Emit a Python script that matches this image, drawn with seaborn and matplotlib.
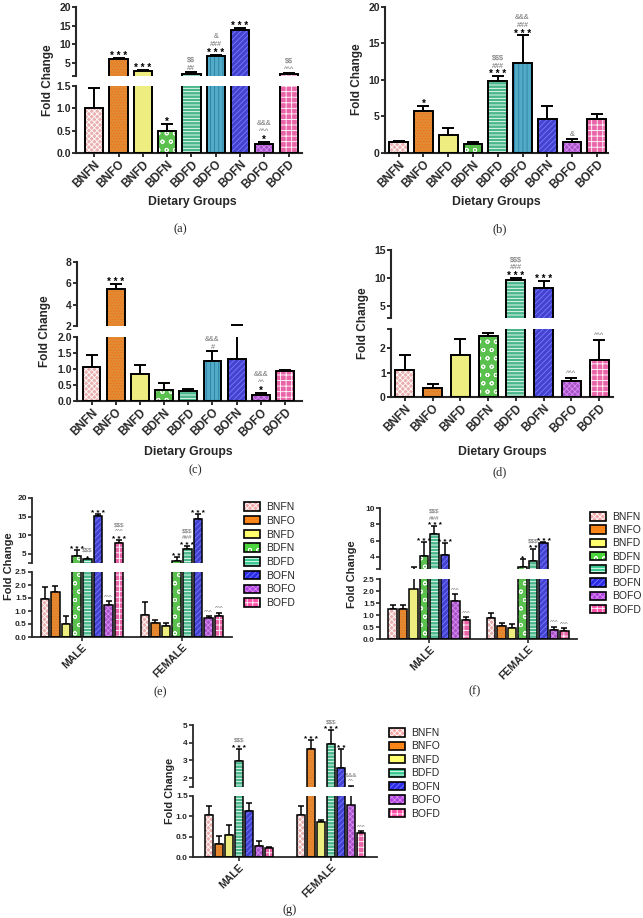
import matplotlib.pyplot as plt
import matplotlib.patches as mpatches
import pandas as pd
import seaborn as sns

sns.set_style("ticks")
plt.rcParams['font.family'] = ['Liberation Sans', 'DejaVu Sans']
plt.rcParams['font.weight'] = 'bold'
plt.rcParams['hatch.linewidth'] = 0.6

W, H = 643, 918

GROUPS_9 = ['BNFN', 'BNFO', 'BNFD', 'BDFN', 'BDFD', 'BDFO', 'BOFN', 'BOFO', 'BOFD']
GROUPS_8 = ['BNFN', 'BNFO', 'BNFD', 'BDFN', 'BDFD', 'BOFN', 'BOFO', 'BOFD']
GROUPS_7 = ['BNFN', 'BNFO', 'BNFD', 'BDFD', 'BOFN', 'BOFO', 'BOFD']
SEXES = ['MALE', 'FEMALE']

# panel (a)
a_mean = [1.0, 6.0, 2.8, 0.5, 2.0, 6.8, 13.8, 0.2, 2.0]
a_err = [0.45, 0.25, 0.35, 0.15, 0.45, 0.3, 0.5, 0.05, 0.2]
a_sig = ['', '***', '***', '*', '$$\n##', '&\n###\n***', '***', '&&&\n^^^\n*', '$$\n^^^']

# panel (b)
b_mean = [1.5, 5.7, 2.5, 1.3, 9.9, 12.3, 4.7, 1.5, 4.6]
b_err = [0.15, 0.8, 0.9, 0.15, 0.6, 3.8, 1.8, 0.4, 0.8]
b_sig = ['', '*', '', '', '$$$\n###\n***', '&&&\n###\n***', '', '&', '']

# panel (c)
c_mean = [1.07, 5.5, 0.83, 0.33, 0.31, 1.24, 1.3, 0.18, 0.93]
c_err = [0.38, 0.45, 0.28, 0.23, 0.05, 0.31, 0.77, 0.07, 0.05]
c_sig = ['', '***', '', '', '', '&&&\n#', '', '&&&\n^^\n*', '']

# panel (d)
d_mean = [1.13, 0.39, 1.75, 2.52, 9.7, 8.2, 0.64, 1.53]
d_err = [0.62, 0.16, 0.62, 0.11, 0.3, 1.3, 0.14, 0.83]
d_sig = ['', '', '', '', '$$$\n###\n***', '***', '^^^', '^^^']

# panel (e)
e_male = [1.47, 1.73, 0.5, 4.5, 3.5, 15.2, 1.22, 7.9]
e_male_err = [0.46, 0.24, 0.32, 1.5, 0.15, 0.5, 0.15, 0.8]
e_male_sig = ['', '', '', '***', '$$$\n*', '***', '^^^', '$$$\n^^^\n***']
e_female = [0.86, 0.52, 0.43, 3.0, 6.3, 14.3, 0.72, 0.8]
e_female_err = [0.5, 0.12, 0.11, 1.2, 0.9, 1.4, 0.08, 0.14]
e_female_sig = ['', '', '', '**', '$$$\n###\n***', '***', '^^^', '^^^']

# panel (f)
f_male = [1.24, 1.24, 2.1, 4.1, 6.85, 4.28, 1.6, 0.81]
f_male_err = [0.16, 0.17, 0.7, 1.7, 0.9, 1.4, 0.27, 0.09]
f_male_sig = ['', '', '', '***', '$$$\n###\n***', '***', '^^^', '^^^']
f_female = [0.87, 0.56, 0.45, 2.73, 3.47, 5.7, 0.39, 0.35]
f_female_err = [0.21, 0.12, 0.16, 1.0, 1.5, 0.1, 0.13, 0.12]
f_female_sig = ['', '', '', '*', '$$$\n**', '***', '^^^', '^^^']

# panel (g)
g_male = [1.03, 0.31, 0.54, 2.95, 1.13, 0.27, 0.23]
g_male_err = [0.23, 0.21, 0.24, 0.71, 0.19, 0.13, 0.02]
g_male_sig = ['', '', '', '$$$\n***', '', '', '']
g_female = [1.03, 3.62, 0.85, 3.9, 2.55, 1.28, 0.6]
g_female_err = [0.23, 0.52, 0.05, 0.8, 1.09, 0.3, 0.04]
g_female_sig = ['', '***', '', '$$$\n***', '**', '&&&\n^^', '^^^']

# face colour, hatch, hatch colour
STYLE = {
    'BNFN': ('#F4A6A6', 'xxxxxx', '#FFFFFF'),
    'BNFO': ('#FF8A1A', '......', '#EE7410'),
    'BNFD': ('#FFFF6E', '', '#FFFF6E'),
    'BDFN': ('#4BD43B', 'oo', '#FFFFFF'),
    'BDFD': ('#35C98F', '-----', '#FFFFFF'),
    'BDFO': ('#3DB5DA', '||||', '#2A7FA5'),
    'BOFN': ('#2B2BE8', '//////', '#7A7AFF'),
    'BOFO': ('#B040DD', 'xxxxxx', '#D78AF0'),
    'BOFD': ('#FF4FA8', '+++', '#FFFFFF'),
}

BIG = dict(spine=1.5, tick=7.5, xtick=8.5, bar=1.4, cap=4, star=7, mark=5.2, gap=2.0)
SMALL = dict(spine=1.3, tick=6, xtick=7.5, bar=1.1, cap=2.2, star=5.8, mark=4.5, gap=1.5)


def single_df(groups, mean, err, sig):
    return pd.DataFrame({'group': groups, 'hue': groups, 'value': mean, 'err': err, 'sig': sig})


def sex_df(groups, m, m_err, m_sig, f, f_err, f_sig):
    return pd.DataFrame({'group': ['MALE'] * len(groups) + ['FEMALE'] * len(groups),
                         'hue': groups * 2, 'value': m + f, 'err': m_err + f_err,
                         'sig': m_sig + f_sig})


def draw_bars(ax, df, xorder, horder, width, gap, ylim, sz):
    grouped = xorder != horder
    sns.barplot(data=df, x='group', y='value', hue='hue', order=xorder, hue_order=horder,
                palette={k: STYLE[k][0] for k in horder}, dodge=grouped, width=width,
                gap=gap if grouped else 0, errorbar=None, legend=False, ax=ax, zorder=2)
    info = df.set_index(['group', 'hue'])
    notes = []
    for level, cont in zip(horder, list(ax.containers)):
        face, hatch, hcol = STYLE[level]
        for bar in cont:
            cx = bar.get_x() + bar.get_width() / 2
            row = info.loc[(xorder[int(round(cx))], level)]
            bar.set_hatch(hatch)
            bar.set_edgecolor(hcol)
            bar.set_linewidth(0)
            ax.add_patch(mpatches.Rectangle(bar.get_xy(), bar.get_width(), bar.get_height(),
                                            fill=False, ec='black', lw=sz['bar'], zorder=3))
            top = row['value'] + row['err']
            if top > ylim[0]:
                # caps only where the end of the bar falls inside this segment
                cap = sz['cap'] if top <= ylim[1] else 0
                ax.errorbar([cx], [row['value']], yerr=[[0], [row['err']]], fmt='none',
                            ecolor='black', elinewidth=sz['bar'], capsize=cap,
                            capthick=sz['bar'], zorder=1)
            notes.append((cx, top, row['sig']))
    return notes


def annotate(ax, x, y, text, sz):
    off = sz['gap']
    for line in reversed(text.split('\n')):
        if not line:
            continue
        if '*' in line:
            ax.annotate(' '.join(line), (x, y), xytext=(0, off - 0.40 * sz['star']),
                        textcoords='offset points', ha='center', va='baseline',
                        fontsize=sz['star'], fontweight='bold', color='black',
                        annotation_clip=False, parse_math=False)
            off += 0.32 * sz['star'] + sz['gap']
        else:
            ax.annotate(line, (x, y), xytext=(0, off), textcoords='offset points',
                        ha='center', va='baseline', fontsize=sz['mark'], fontweight='normal',
                        color='#6e6e6e', annotation_clip=False, parse_math=False)
            off += 0.72 * sz['mark'] + sz['gap']


def panel(fig, df, xorder, horder, left, right, rows, ylims, yticks, ylabels,
          xlim, width, gap, sz):
    axes = []
    notes = []
    for (top, bottom), ylim, ticks, labels in zip(rows, ylims, yticks, ylabels):
        ax = fig.add_axes([left / W, 1 - bottom / H, (right - left) / W, (bottom - top) / H])
        notes = draw_bars(ax, df, xorder, horder, width, gap, ylim, sz)
        ax.set_ylim(*ylim)
        ax.set_xlim(*xlim)
        ax.set_yticks(ticks, labels)
        ax.set_xlabel('')
        ax.set_ylabel('')
        for s in ['top', 'right']:
            ax.spines[s].set_visible(False)
        ax.spines['left'].set_linewidth(sz['spine'])
        ax.spines['bottom'].set_linewidth(sz['spine'])
        ax.tick_params(width=sz['spine'] * 0.9, length=3, labelsize=sz['tick'], pad=0.8)
        axes.append(ax)
    for ax in axes[:-1]:
        ax.spines['bottom'].set_visible(False)
        ax.tick_params(axis='x', bottom=False, labelbottom=False)
    bottom_ax = axes[-1]
    bottom_ax.set_xticks(range(len(xorder)), xorder, rotation=45, ha='right',
                         rotation_mode='anchor', fontsize=sz['xtick'])
    for x, y, text in notes:
        if not text:
            continue
        target = next(ax for ax in axes if y > ax.get_ylim()[0])
        annotate(target, x, y, text, sz)
    return axes


def fig_text(fig, x, y, s, **kw):
    fig.text(x / W, 1 - y / H, s, ha='center', va='center', **kw)


def legend(fig, horder, x, y, spacing):
    handles = [(mpatches.Patch(facecolor=STYLE[k][0], hatch=STYLE[k][1], edgecolor=STYLE[k][2], lw=0),
                mpatches.Patch(fill=False, edgecolor='black', lw=1.2)) for k in horder]
    fig.legend(handles, horder, loc='upper left', bbox_to_anchor=(x / W, 1 - y / H),
               frameon=False, prop={'family': 'Liberation Sans', 'weight': 'normal', 'size': 7.5},
               handlelength=1.5, handleheight=0.85, handletextpad=0.6, labelspacing=spacing,
               borderpad=0, borderaxespad=0)


fig = plt.figure(figsize=(W / 100, H / 100), dpi=100)

# (a)
panel(fig, single_df(GROUPS_9, a_mean, a_err, a_sig), GROUPS_9, GROUPS_9, 76, 302,
      [(7, 76), (86, 153)], [(1.5, 20), (0, 1.5)],
      [[1.5, 5, 10, 15, 20], [0, 0.5, 1.0, 1.5]],
      [['', '5', '10', '15', '20'], ['0.0', '0.5', '1.0', '1.5']],
      (-0.75, 8.55), 0.75, 0, BIG)
fig_text(fig, 48, 80, 'Fold Change', rotation=90, fontsize=8.5)
fig_text(fig, 192, 202, 'Dietary Groups', fontsize=8.8)

# (b)
panel(fig, single_df(GROUPS_9, b_mean, b_err, b_sig), GROUPS_9, GROUPS_9, 385, 608,
      [(7, 153)], [(0, 20)], [[0, 5, 10, 15, 20]], [['0', '5', '10', '15', '20']],
      (-0.55, 8.45), 0.76, 0, BIG)
fig_text(fig, 357, 79, 'Fold Change', rotation=90, fontsize=8.5)
fig_text(fig, 496, 202, 'Dietary Groups', fontsize=8.8)

# (c)
panel(fig, single_df(GROUPS_9, c_mean, c_err, c_sig), GROUPS_9, GROUPS_9, 77, 302,
      [(262, 326), (337, 401)], [(2, 8), (0, 2)],
      [[2, 4, 6, 8], [0, 0.5, 1.0, 1.5, 2.0]],
      [['2', '4', '6', '8'], ['0.0', '0.5', '1.0', '1.5', '2.0']],
      (-0.6, 8.7), 0.73, 0, BIG)
fig_text(fig, 45, 331, 'Fold Change', rotation=90, fontsize=8.5)
fig_text(fig, 188, 452, 'Dietary Groups', fontsize=8.8)

# (d)
panel(fig, single_df(GROUPS_8, d_mean, d_err, d_sig), GROUPS_8, GROUPS_8, 391, 613,
      [(250, 318), (329, 397)], [(2.8, 15), (0, 2.8)],
      [[2.8, 5, 10, 15], [0, 1, 2, 2.8]],
      [['', '5', '10', '15'], ['0', '1', '2', '']],
      (-0.5, 7.5), 0.69, 0, BIG)
fig_text(fig, 363, 323, 'Fold Change', rotation=90, fontsize=8.5)
fig_text(fig, 502, 452, 'Dietary Groups', fontsize=8.8)

# (e)
panel(fig, sex_df(GROUPS_8, e_male, e_male_err, e_male_sig, e_female, e_female_err, e_female_sig),
      SEXES, GROUPS_8, 32, 232,
      [(498, 563), (572, 637)], [(2.5, 20), (0, 2.5)],
      [[2.5, 5, 10, 15, 20], [0, 0.5, 1.0, 1.5, 2.0, 2.5]],
      [['', '5', '10', '15', '20'], ['0.0', '0.5', '1.0', '1.5', '2.0', '2.5']],
      (-0.5, 1.5), 0.85, 0.2, SMALL)
fig_text(fig, 9, 566, 'Fold Change', rotation=90, fontsize=8)
legend(fig, GROUPS_8, 244, 502, 0.36)

# (f)
panel(fig, sex_df(GROUPS_8, f_male, f_male_err, f_male_sig, f_female, f_female_err, f_female_sig),
      SEXES, GROUPS_8, 380, 577,
      [(508, 569), (579, 639)], [(2.5, 10), (0, 2.5)],
      [[2.5, 4, 6, 8, 10], [0, 0.5, 1.0, 1.5, 2.0, 2.5]],
      [['', '4', '6', '8', '10'], ['0.0', '0.5', '1.0', '1.5', '2.0', '2.5']],
      (-0.5, 1.5), 0.85, 0.2, SMALL)
fig_text(fig, 352, 574, 'Fold Change', rotation=90, fontsize=8)
legend(fig, GROUPS_8, 590, 512, 0.31)

# (g)
panel(fig, sex_df(GROUPS_7, g_male, g_male_err, g_male_sig, g_female, g_female_err, g_female_sig),
      SEXES, GROUPS_7, 193, 377,
      [(725, 787), (796, 857)], [(1.5, 5), (0, 1.5)],
      [[1.5, 2, 3, 4, 5], [0, 0.5, 1.0, 1.5]],
      [['', '2', '3', '4', '5'], ['0.0', '0.5', '1.0', '1.5']],
      (-0.5, 1.5), 0.77, 0.2, SMALL)
fig_text(fig, 170, 791, 'Fold Change', rotation=90, fontsize=7.8)
legend(fig, GROUPS_7, 389, 728, 0.33)

serif = dict(family=['Liberation Serif', 'DejaVu Serif'], fontweight='normal', fontsize=9)
fig_text(fig, 180, 229, '(a)', **serif)
fig_text(fig, 500, 229, '(b)', **serif)
fig_text(fig, 195, 470, '(c)', **serif)
fig_text(fig, 500, 472, '(d)', **serif)
fig_text(fig, 160, 692, '(e)', **serif)
fig_text(fig, 475, 691, '(f)', **serif)
fig_text(fig, 290, 910, '(g)', **serif)

fig.savefig('out.png', dpi=100)
